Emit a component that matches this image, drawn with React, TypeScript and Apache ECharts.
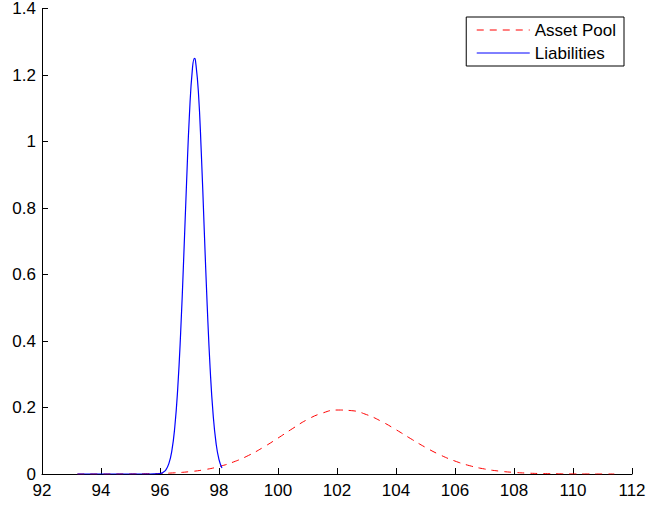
import React, { useEffect, useRef } from "react";
import * as echarts from "echarts";

const seriesNames = ["Asset Pool", "Liabilities"];

const assetX = [93.2, 94, 95, 95.5, 96, 96.5, 97, 97.5, 98, 98.5, 99, 99.5, 100, 100.5, 101, 101.5, 102, 102.5, 103, 103.5, 104, 104.5, 105, 105.5, 106, 106.5, 107, 107.5, 108, 108.5, 109, 109.5, 110, 110.5, 111, 111.4];
const assetY = [0, 0, 0.0003, 0.0008, 0.0017, 0.0036, 0.007, 0.0129, 0.0224, 0.0365, 0.0558, 0.0802, 0.108, 0.137, 0.164, 0.183, 0.1924, 0.1905, 0.1786, 0.1585, 0.1333, 0.1062, 0.0801, 0.0573, 0.0389, 0.0249, 0.0151, 0.0087, 0.0048, 0.0025, 0.0012, 0.0006, 0.0002, 0.0001, 0, 0];

const liabX = [93.2, 94, 95, 95.5, 95.8, 96.0, 96.1, 96.2, 96.3, 96.4, 96.5, 96.6, 96.7, 96.8, 96.9, 97.0, 97.1, 97.17, 97.2, 97.3, 97.4, 97.5, 97.6, 97.7, 97.8, 97.9, 98.0, 98.1];
const liabY = [0, 0, 0, 0, 0.0001, 0.0016, 0.0047, 0.0126, 0.031, 0.069, 0.14, 0.256, 0.425, 0.641, 0.875, 1.085, 1.22, 1.25, 1.245, 1.151, 0.966, 0.734, 0.507, 0.317, 0.18, 0.093, 0.043, 0.018];

const xMin = 92, xMax = 112, xStep = 2;
const yMin = 0, yMax = 1.4, yStep = 0.2;

const FONT = "'Liberation Sans', Arial, Helvetica, sans-serif";

export default function App() {
  const ref = useRef<HTMLDivElement>(null);
  useEffect(() => {
    if (!ref.current) return;
    const chart = echarts.init(ref.current, undefined, { renderer: "svg" });
    const zip = (xs: number[], ys: number[]) => xs.map((x, i) => [x, ys[i]]);
    const axisCommon = {
      axisLine: { show: true, lineStyle: { color: "#000", width: 1 } },
      axisTick: { show: true, inside: true, length: 6, lineStyle: { color: "#000" } },
      splitLine: { show: false },
      axisLabel: { color: "#000", fontSize: 17, fontFamily: FONT },
    };
    chart.setOption({
      animation: false,
      backgroundColor: "#fff",
      textStyle: { fontFamily: FONT },
      grid: { left: 42, right: 17, top: 8, bottom: 34, containLabel: false },
      xAxis: {
        type: "value",
        min: xMin,
        max: xMax,
        interval: xStep,
        ...axisCommon,
        axisLabel: { ...axisCommon.axisLabel, margin: 8 },
      },
      yAxis: {
        type: "value",
        min: yMin,
        max: yMax,
        interval: yStep,
        ...axisCommon,
        axisLabel: { ...axisCommon.axisLabel, margin: 6 },
      },
      legend: {
        orient: "vertical",
        right: 25,
        top: 17,
        padding: [4, 8, 4, 10],
        itemGap: 5,
        itemWidth: 53,
        itemHeight: 14,
        borderColor: "#000",
        borderWidth: 1,
        backgroundColor: "#fff",
        itemStyle: { opacity: 0 },
        lineStyle: { width: 1 },
        textStyle: { color: "#000", fontSize: 17, fontFamily: FONT, lineHeight: 18 },
        data: seriesNames,
      },
      series: [
        {
          name: seriesNames[0],
          type: "line",
          data: zip(assetX, assetY),
          showSymbol: false,
          symbol: "none",
          smooth: true,
          lineStyle: { color: "#ff0000", width: 1, type: [7, 6] },
          itemStyle: { color: "#ff0000" },
        },
        {
          name: seriesNames[1],
          type: "line",
          data: zip(liabX, liabY),
          showSymbol: false,
          symbol: "none",
          smooth: true,
          lineStyle: { color: "#0000ff", width: 1.2 },
          itemStyle: { color: "#0000ff" },
        },
      ],
    });
    return () => chart.dispose();
  }, []);
  return <div ref={ref} style={{ width: 649, height: 508, position: "absolute", left: 0, top: 0 }} />;
}
